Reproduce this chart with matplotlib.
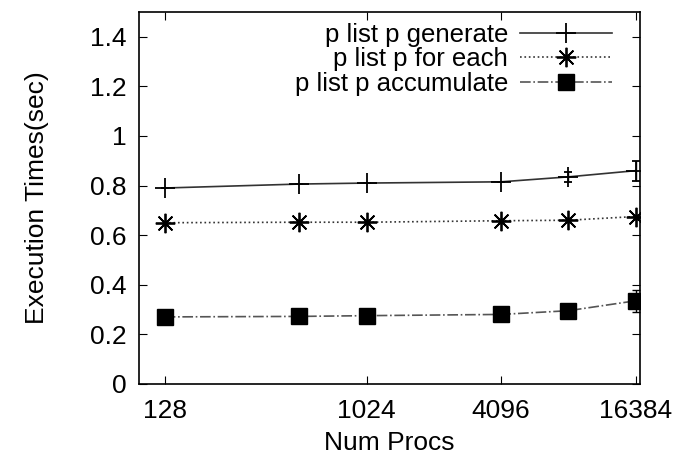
import matplotlib.pyplot as plt
from matplotlib.ticker import FixedLocator, NullLocator, FixedFormatter

plt.rcParams['font.family'] = ['Liberation Sans', 'DejaVu Sans']

procs = [128, 512, 1024, 4096, 8192, 16384]
generate = [0.79, 0.806, 0.81, 0.815, 0.835, 0.86]
generate_err = [0.0, 0.0, 0.0, 0.0, 0.02, 0.04]
for_each = [0.65, 0.652, 0.652, 0.658, 0.66, 0.675]
accumulate = [0.27, 0.272, 0.275, 0.28, 0.295, 0.335]
accumulate_err = [0.0, 0.0, 0.0, 0.0, 0.0, 0.045]
xticks = [128, 1024, 4096, 16384]
yticks = [0, 0.2, 0.4, 0.6, 0.8, 1, 1.2, 1.4]

fig = plt.figure(figsize=(6.77, 4.63), dpi=100)
ax = fig.add_axes([0.205, 0.171, 0.740, 0.803])

eb1 = ax.errorbar(procs, generate, yerr=generate_err, color='#333333', lw=1.2,
                  marker='+', ms=14, mew=1.3, mec='black', capsize=3, ecolor='black',
                  elinewidth=1)
l2, = ax.plot(procs, for_each, color='#333333', lw=1.2, ls=':', marker=(8, 2, 0),
              ms=14, mew=1.3, mec='black')
eb3 = ax.errorbar(procs, accumulate, yerr=accumulate_err, color='#555555', lw=1.2,
                  ls='-.', marker='s', ms=12, mfc='black', mec='black', capsize=3,
                  ecolor='black', elinewidth=1)

ax.set_xscale('log', base=2)
ax.set_xlim(98, 17100)
ax.set_ylim(0, 1.5)
ax.xaxis.set_major_locator(FixedLocator(xticks))
ax.xaxis.set_major_formatter(FixedFormatter([str(t) for t in xticks]))
ax.xaxis.set_minor_locator(NullLocator())
ax.set_yticks(yticks)
ax.set_yticklabels(['0', '0.2', '0.4', '0.6', '0.8', '1', '1.2', '1.4'])
ax.tick_params(direction='in', top=True, right=True, length=6, labelsize=19, pad=9)
ax.tick_params(axis='x', pad=11)
ax.set_xlabel('Num Procs', fontsize=19, labelpad=6)
ax.set_ylabel('Execution Times(sec)', fontsize=19, labelpad=29)
for s in ax.spines.values():
    s.set_linewidth(1.2)

ax.legend([eb1.lines[0], l2, eb3.lines[0]],
          ['p list p generate', 'p list p for each', 'p list p accumulate'],
          loc='upper right', bbox_to_anchor=(0.955, 0.985), frameon=False,
          markerfirst=False, fontsize=18.5, handlelength=3.6, labelspacing=0.02,
          borderaxespad=0, borderpad=0.2, handletextpad=0.45)

fig.savefig('out.png', dpi=100)
